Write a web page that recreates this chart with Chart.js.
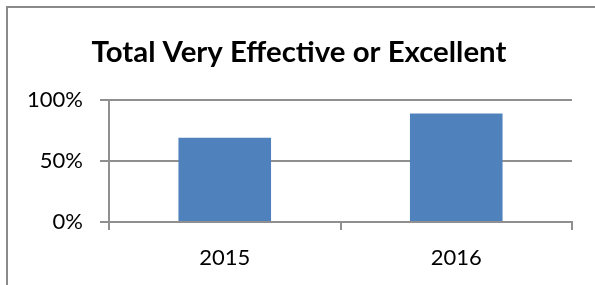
<!DOCTYPE html>
<html>
<head>
<meta charset="utf-8">
<script src="https://cdn.jsdelivr.net/npm/chart.js@4"></script>
<style>
  html, body { margin: 0; padding: 0; background: #fff; }
  body { width: 595px; height: 285px; position: relative; overflow: hidden; }
  #marco { position: absolute; left: 6px; top: 6px; width: 700px; height: 400px;
           border-left: 2px solid #8a8a8a; border-top: 2px solid #8a8a8a; }
  #caja { position: absolute; left: 0; top: 0; width: 595px; height: 285px; }
</style>
</head>
<body>
<div id="marco"></div>
<div id="caja"><canvas id="grafica" width="595" height="285"></canvas></div>
<script>
// datos del grafico
const categorias = ["2015", "2016"];
const valores = [69, 89];          // % muy efectivo o excelente
const ticksY = [0, 50, 100];
const titulo = "Total Very Effective or Excellent";

const gris = '#8f8f8f';
const fuente = "Lato, 'Open Sans', sans-serif";

const ctx = document.getElementById('grafica').getContext('2d');
new Chart(ctx, {
    type: 'bar',
    data: {
        labels: categorias,
        datasets: [{
            label: titulo,
            data: valores,
            backgroundColor: '#4f81bd',
            categoryPercentage: 1,
            barPercentage: 0.4
        }]
    },
    options: {
        responsive: false,
        animation: false,
        devicePixelRatio: 1,
        // padding izquierdo para acercar el centrado del titulo al original
        layout: { padding: { left: 26, right: 23, top: 0, bottom: 0 } },
        plugins: {
            legend: { display: false },
            tooltip: { enabled: false },
            title: {
                display: true,
                text: titulo,
                color: '#000',
                font: { family: fuente, size: 29.4, weight: 'bold', lineHeight: 1.2 },
                padding: { top: 34.4, bottom: 30.3 }
            }
        },
        scales: {
            x: {
                grid: { drawOnChartArea: false, offset: true, tickLength: 8, color: gris, lineWidth: 2 },
                border: { color: gris, width: 2 },
                ticks: { color: '#000', font: { family: fuente, size: 22 }, padding: 15 },
                afterFit: (s) => { s.height = 63; }
            },
            y: {
                min: 0,
                max: 100,
                afterBuildTicks: (s) => { s.ticks = ticksY.map(v => ({ value: v })); },
                grid: { tickLength: 9, color: gris, lineWidth: 2 },
                border: { color: gris, width: 2 },
                ticks: {
                    color: '#000',
                    font: { family: fuente, size: 22 },
                    padding: 17,
                    callback: (v) => v + '%'
                },
                afterFit: (s) => { s.width = 83; }
            }
        }
    }
});
</script>
</body>
</html>
